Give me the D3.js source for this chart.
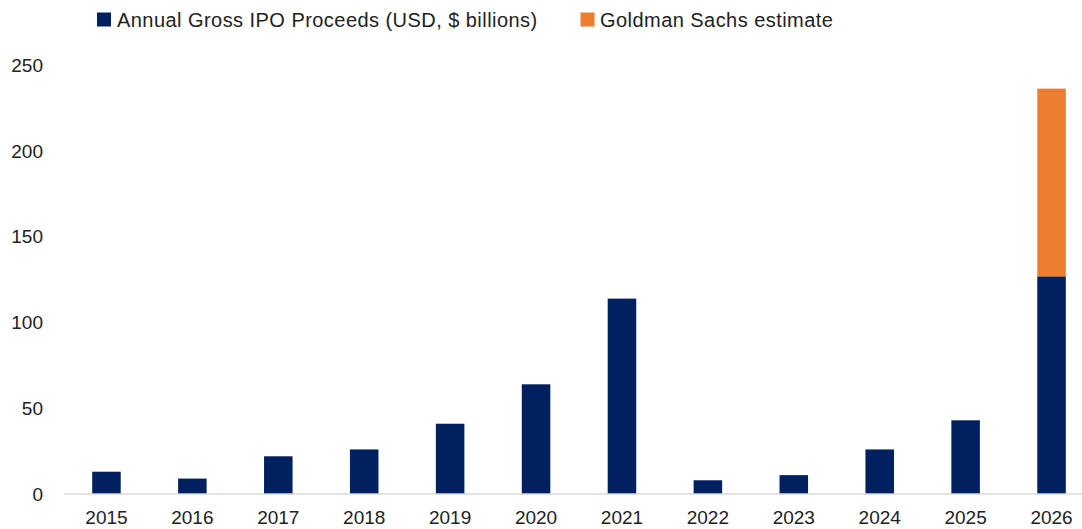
<!DOCTYPE html>
<html>
<head>
<meta charset="utf-8">
<script src="https://cdn.jsdelivr.net/npm/d3@7"></script>
<style>
  html, body { margin: 0; padding: 0; background: #fff; overflow: hidden; }
  svg { display: block; }
</style>
</head>
<body>
<svg id="chart" width="1082" height="529"></svg>
<script>
const years = ["2015","2016","2017","2018","2019","2020","2021","2022","2023","2024","2025","2026"];
const proceeds = [13, 9, 22, 26, 41, 64, 114, 8, 11, 26, 43, 127];
const estimate = [0, 0, 0, 0, 0, 0, 0, 0, 0, 0, 0, 109.5];
const yTicks = [0, 50, 100, 150, 200, 250];
const seriesNames = ["Annual Gross IPO Proceeds (USD, $ billions)", "Goldman Sachs estimate"];
const seriesColors = ["#002060", "#ED7D31"];

const svg = d3.select("#chart");
const W = 1082, H = 529;
const fontFamily = "'Liberation Sans', Arial, sans-serif";

const x = d3.scaleBand().domain(years).range([63.5, 1094.5]).paddingInner(0.668).paddingOuter(0.334);
const y = d3.scaleLinear().domain([0, 250]).range([494, 65.5]);

// Y axis labels (no line, no ticks)
const yAxis = d3.axisLeft(y).tickValues(yTicks).tickSize(0).tickPadding(0);
const gy = svg.append("g").attr("transform", "translate(43,0)").call(yAxis);
gy.select(".domain").remove();
gy.selectAll("text").attr("font-family", fontFamily).attr("font-size", 19).attr("fill", "#222");

// bars
const data = years.map((yr, i) => ({ yr, a: proceeds[i], b: estimate[i] }));
svg.append("g").selectAll("rect.a").data(data).join("rect")
  .attr("x", d => x(d.yr)).attr("width", x.bandwidth())
  .attr("y", d => y(d.a)).attr("height", d => y(0) - y(d.a))
  .attr("fill", seriesColors[0]);
svg.append("g").selectAll("rect.b").data(data.filter(d => d.b > 0)).join("rect")
  .attr("x", d => x(d.yr)).attr("width", x.bandwidth())
  .attr("y", d => y(d.a + d.b)).attr("height", d => y(d.a) - y(d.a + d.b))
  .attr("fill", seriesColors[1]);

// X axis
const xAxis = d3.axisBottom(x).tickSize(0).tickPadding(16.5);
const gx = svg.append("g").attr("transform", `translate(0,${y(0)})`).call(xAxis);
gx.select(".domain").attr("stroke", "#d9d9d9").attr("stroke-width", 1.5)
  .attr("d", `M64,0H${W}`);
gx.selectAll("text").attr("font-family", fontFamily).attr("font-size", 19).attr("fill", "#222");

// Legend
const legendPos = [{ sx: 97, tx: 117 }, { sx: 580.5, tx: 600 }];
const lg = svg.append("g");
seriesNames.forEach((name, i) => {
  lg.append("rect").attr("x", legendPos[i].sx).attr("y", 12.5).attr("width", 14).attr("height", 14)
    .attr("fill", seriesColors[i]);
  lg.append("text").attr("x", legendPos[i].tx).attr("y", 26.5)
    .attr("font-family", fontFamily).attr("font-size", 20).attr("letter-spacing", 0.45)
    .attr("fill", "#222").text(name);
});
</script>
</body>
</html>
